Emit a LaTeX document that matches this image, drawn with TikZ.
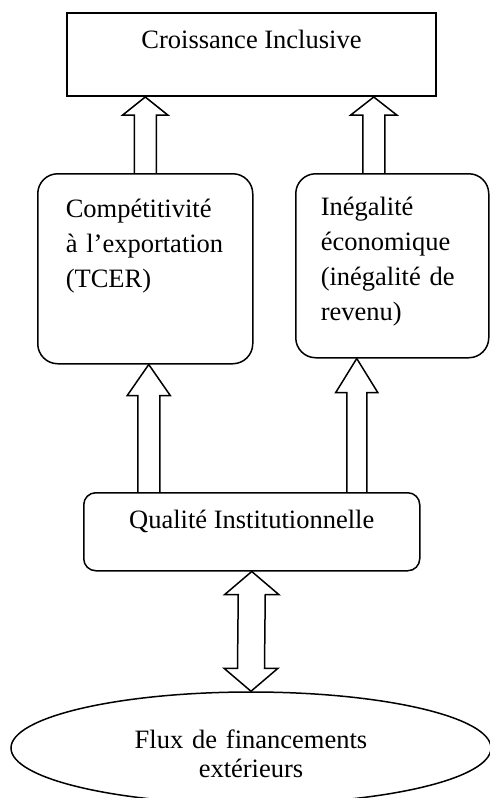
\documentclass[tikz,border=0pt]{standalone}
\usepackage{fontspec}
\setmainfont{Liberation Serif}
\usetikzlibrary{calc,positioning,shapes.geometric}
\tikzset{
  every node/.style={font=\fontsize{26.5}{35}\selectfont},
  every path/.style={line width=1.5pt,line join=miter},
  plainbox/.style={draw,rectangle,inner sep=0pt,line width=2pt},
  roundbox/.style={draw,rectangle,inner ysep=0pt,align=left},
  flowell/.style={draw,ellipse,inner sep=0pt,align=center},
  blockarrow/.style={draw}
}
% base, tip, shaft half width, head half width, head length
\newcommand\arrowup[5]{%
  \draw[blockarrow] ($(#1)+(-#3,0)$) -- ($(#2)+(-#3,#5)$) -- ($(#2)+(-#4,#5)$) -- (#2)
    -- ($(#2)+(#4,#5)$) -- ($(#2)+(#3,#5)$) -- ($(#1)+(#3,0)$);}
% top tip, bottom tip, shaft half width, head half width, head length
\newcommand\arrowboth[5]{%
  \draw[blockarrow] (#1) -- ($(#1)+(#4,#5)$) -- ($(#1)+(#3,#5)$) -- ($(#2)+(#3,-#5)$)
    -- ($(#2)+(#4,-#5)$) -- (#2) -- ($(#2)+(-#4,-#5)$) -- ($(#2)+(-#3,-#5)$)
    -- ($(#1)+(-#3,#5)$) -- ($(#1)+(-#4,#5)$) -- cycle;}

\begin{document}
\begin{tikzpicture}[x=1pt,y=-1pt]
  \useasboundingbox (0,0) rectangle (490,798);
  \node[plainbox,anchor=north west,minimum width=369pt,text height=35pt,text depth=48pt]
    (croiss) at (66,12) {Croissance Inclusive};
  \node[roundbox,rounded corners=20pt,anchor=north west,text width=159pt,inner xsep=28pt,
    text height=44pt,text depth=146pt] (compet) at (37,173)
    {Compétitivité\\à l’exportation\\(TCER)};
  \node[roundbox,rounded corners=20pt,anchor=north west,text width=143pt,inner xsep=25pt,
    text height=42pt,text depth=142pt] (ineg) at (295,173)
    {Inégalité\\économique\\(inégalité de\\revenu)};
  \node[roundbox,rounded corners=12pt,anchor=north west,minimum width=336pt,
    text height=36pt,text depth=42pt] (qual) at (83,492) {Qualité Institutionnelle};
  \node[flowell,minimum width=480pt,minimum height=112pt,text width=300pt,text height=0pt,
    text depth=0pt,font=\fontsize{26.5}{29}\selectfont] (flux) at (251,748)
    {Flux de financements\\extérieurs};

  \coordinate (a1) at (compet.north);
  \coordinate (t1) at (a1 |- croiss.south);
  \coordinate (a2) at ($(ineg.north)+(-18.5,0)$);
  \coordinate (t2) at (a2 |- croiss.south);
  \coordinate (t3) at ($(compet.south)+(3.5,0)$);
  \coordinate (a3) at (t3 |- qual.north);
  \coordinate (t4) at ($(ineg.south)+(-35.5,0)$);
  \coordinate (a4) at (t4 |- qual.north);

  \arrowup{a1}{t1}{11}{22.5}{18}
  \arrowup{a2}{t2}{11}{23}{18}
  \arrowup{a3}{t3}{11}{21.5}{31}
  \arrowup{a4}{t4}{10}{21}{34}
  \arrowboth{qual.south}{flux.north}{13.5}{27}{23}
\end{tikzpicture}
\end{document}
